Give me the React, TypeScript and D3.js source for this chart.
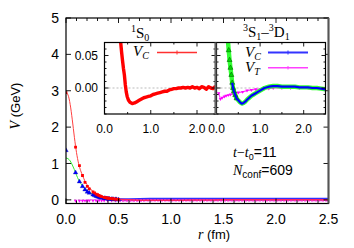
import React from 'react';
import * as d3 from 'd3';

// ---------- data ----------
const mainXTicks = [0, 0.5, 1.0, 1.5, 2.0, 2.5];
const mainYTicks = [0, 1, 2, 3, 4, 5];
const insetXTicks = [0, 1.0, 2.0];
const insetYTicks = [0, 0.05];

// fitted curves (main plot)
const fitR = [0, 0.02, 0.04, 0.06, 0.08, 0.1, 0.12, 0.14, 0.16, 0.18, 0.2, 0.25, 0.3, 0.35, 0.4, 0.5, 0.6, 0.8, 1.0, 1.5, 2.0, 2.5];
const fitVC1S0 = [2.95, 2.88, 2.62, 2.2, 1.72, 1.3, 1.0, 0.8, 0.65, 0.52, 0.42, 0.25, 0.15, 0.09, 0.055, 0.02, 0.005, 0, 0, 0, 0, 0];
const fitVC3S1 = [1.15, 1.13, 1.07, 0.96, 0.83, 0.68, 0.55, 0.45, 0.37, 0.3, 0.25, 0.16, 0.1, 0.065, 0.04, 0.015, 0.005, 0, 0, 0, 0, 0];

// lattice data points (main plot), short range
const mainR = [0, 0.091, 0.128, 0.157, 0.181, 0.203, 0.222, 0.257, 0.272, 0.287, 0.301, 0.314, 0.327, 0.339, 0.363, 0.374, 0.385, 0.396, 0.406, 0.416, 0.435, 0.444, 0.453, 0.471, 0.48, 0.5];
const mainVC1S0 = [2.95, 1.45, 0.94, 0.67, 0.48, 0.37, 0.3, 0.22, 0.19, 0.16, 0.14, 0.12, 0.105, 0.09, 0.07, 0.06, 0.055, 0.05, 0.045, 0.04, 0.032, 0.028, 0.025, 0.02, 0.018, 0.012];
const mainVC3S1 = [1.36, 0.75, 0.5, 0.37, 0.28, 0.22, 0.19, 0.14, 0.12, 0.1, 0.085, 0.075, 0.065, 0.055, 0.045, 0.04, 0.035, 0.03, 0.027, 0.024, 0.018, 0.016, 0.014, 0.011, 0.01, 0.007];
const mainRT = [0.091, 0.128, 0.157, 0.181, 0.203, 0.222, 0.257, 0.287, 0.314, 0.339, 0.363, 0.396, 0.435, 0.471, 0.5];
const mainVT = [-0.025, -0.025, -0.025, -0.022, -0.022, -0.02, -0.02, -0.02, -0.02, -0.02, -0.02, -0.018, -0.018, -0.018, -0.018];

// long range tail (main plot)
const tailR = [0.5, 0.6, 0.7, 0.8, 0.9, 1.0, 1.1, 1.2, 1.3, 1.4, 1.5, 1.6, 1.7, 1.8, 1.9, 2.0, 2.1, 2.2, 2.3, 2.4, 2.5];
const tailVC1S0 = [0.012, 0.0, -0.01, -0.012, -0.01, -0.01, -0.008, -0.006, -0.004, -0.003, 0, 0, 0, 0, 0, 0, 0, 0, 0, 0, 0];
const tailVC3S1 = [0.007, 0.012, 0.015, 0.02, 0.02, 0.02, 0.02, 0.02, 0.02, 0.02, 0.02, 0.02, 0.02, 0.02, 0.02, 0.02, 0.02, 0.02, 0.02, 0.02, 0.02];
const tailVT = [-0.018, -0.018, -0.016, -0.015, -0.015, -0.015, -0.015, -0.015, -0.015, -0.015, -0.015, -0.015, -0.015, -0.015, -0.015, -0.015, -0.015, -0.015, -0.015, -0.015, -0.015];

// left inset: 1S0 central potential
const inset1R = [0.33, 0.35, 0.37, 0.39, 0.41, 0.43, 0.45, 0.47, 0.49, 0.52, 0.55, 0.6, 0.65, 0.7, 0.75, 0.8, 0.85, 0.9, 0.95, 1.0, 1.05, 1.1, 1.15, 1.2, 1.25, 1.3, 1.35, 1.4, 1.45, 1.5, 1.55, 1.6, 1.65, 1.7, 1.75, 1.8, 1.85, 1.9, 1.95, 2.0, 2.05, 2.1, 2.15, 2.2, 2.25, 2.3, 2.35, 2.4];
const inset1VC = [0.085, 0.07, 0.055, 0.042, 0.03, 0.02, 0.005, -0.006, -0.013, -0.019, -0.022, -0.024, -0.023, -0.021, -0.019, -0.017, -0.015, -0.014, -0.013, -0.012, -0.01, -0.009, -0.008, -0.007, -0.006, -0.005, -0.005, -0.003, -0.002, -0.001, -0.001, 0.0, 0.0, 0.001, 0.0, 0.001, 0.0, 0.002, 0.0, 0.001, -0.001, 0.002, 0.001, -0.002, 0.002, 0.0, -0.001, 0.003];

// right inset: 3S1-3D1 central and tensor potentials
const inset2R = [0.26, 0.28, 0.3, 0.32, 0.34, 0.36, 0.38, 0.4, 0.43, 0.46, 0.5, 0.54, 0.58, 0.62, 0.66, 0.7, 0.75, 0.8, 0.85, 0.9, 0.95, 1.0, 1.05, 1.1, 1.2, 1.3, 1.4, 1.5, 1.6, 1.7, 1.8, 1.9, 2.0, 2.1, 2.2, 2.3, 2.4, 2.5];
const inset2VC = [0.075, 0.058, 0.043, 0.031, 0.02, 0.008, 0.0, -0.005, -0.011, -0.016, -0.019, -0.022, -0.024, -0.023, -0.021, -0.018, -0.015, -0.012, -0.01, -0.008, -0.006, -0.004, -0.002, 0.0, 0.002, 0.003, 0.003, 0.002, 0.002, 0.002, 0.002, 0.001, 0.001, 0.001, 0.0, 0.0, -0.001, -0.002];
const inset2RT = [0.05, 0.09, 0.13, 0.18, 0.22, 0.27, 0.32, 0.38, 0.44, 0.5, 0.6, 0.7, 0.8, 0.9, 1.0, 1.1, 1.2, 1.3, 1.5, 1.7, 1.9, 2.1, 2.3, 2.5];
const inset2VT = [-0.008, -0.017, -0.015, -0.013, -0.012, -0.011, -0.01, -0.009, -0.008, -0.007, -0.006, -0.004, -0.003, -0.002, -0.002, -0.001, -0.001, 0.0, 0.0, 0.0, 0.0, 0.0, 0.0, 0.0];

// ---------- layout ----------
const SANS = '"Liberation Sans", Arial, Helvetica, sans-serif';
const SERIF = '"Liberation Serif", "Times New Roman", serif';

const M = { left: 66, right: 328.5, top: 18, bottom: 203.5 };
const I1 = { left: 104.5, right: 215.5, top: 42.5, bottom: 114 };
const I2 = { left: 216.5, right: 325.5, top: 42.5, bottom: 114 };

const xM = d3.scaleLinear().domain([0, 2.5]).range([M.left, M.right]);
const yM = d3.scaleLinear().domain([-0.1, 5]).range([M.bottom, M.top]);
const x1 = d3.scaleLinear().domain([0, 2.4]).range([I1.left, I1.right]);
const x2 = d3.scaleLinear().domain([0, 2.5]).range([I2.left, I2.right]);
const yI = d3.scaleLinear().domain([-0.04, 0.07]).range([I1.bottom, I1.top]);

const zip = (a: number[], b: number[]) => a.map((v, i) => [v, b[i]] as [number, number]);

function Ticks({ box, xs, xMinor, ys, yMinor, xScale, yScale, len, minLen }: any) {
  const out: any[] = [];
  const push = (k: string, xa: number, ya: number, xb: number, yb: number) =>
    out.push(<line key={k} x1={xa} y1={ya} x2={xb} y2={yb} stroke="#000" strokeWidth={0.9} />);
  xs.forEach((v: number, i: number) => {
    const x = xScale(v);
    push('xb' + i, x, box.bottom, x, box.bottom - len);
    push('xt' + i, x, box.top, x, box.top + len);
  });
  xMinor.forEach((v: number, i: number) => {
    const x = xScale(v);
    push('xbm' + i, x, box.bottom, x, box.bottom - minLen);
    push('xtm' + i, x, box.top, x, box.top + minLen);
  });
  ys.forEach((v: number, i: number) => {
    const y = yScale(v);
    push('yl' + i, box.left, y, box.left + len, y);
    push('yr' + i, box.right, y, box.right - len, y);
  });
  yMinor.forEach((v: number, i: number) => {
    const y = yScale(v);
    push('ylm' + i, box.left, y, box.left + minLen, y);
    push('yrm' + i, box.right, y, box.right - minLen, y);
  });
  return <g>{out}</g>;
}

export default function App() {
  const lineM = d3.line<[number, number]>().x(d => xM(d[0])).y(d => yM(d[1])).curve(d3.curveMonotoneX);
  const lineMs = d3.line<[number, number]>().x(d => xM(d[0])).y(d => yM(d[1]));
  const line1 = d3.line<[number, number]>().x(d => x1(d[0])).y(d => yI(d[1]));
  const line2 = d3.line<[number, number]>().x(d => x2(d[0])).y(d => yI(d[1]));
  const sq = d3.symbol().type(d3.symbolSquare).size(8)()!;
  const tri = d3.symbol().type(d3.symbolTriangle).size(9)()!;
  const triS = d3.symbol().type(d3.symbolTriangle).size(5)()!;
  const triG = d3.symbol().type(d3.symbolTriangle).size(11)()!;

  const mainXMinor = d3.range(0, 2.51, 0.1).filter(v => Math.abs(v / 0.5 - Math.round(v / 0.5)) > 1e-6);
  const insetYMinor = d3.range(-0.04, 0.0701, 0.01).filter(v => Math.abs(v / 0.05 - Math.round(v / 0.05)) > 1e-6);
  const inset1XMinor = [0.5, 1.5];
  const inset2XMinor = [0.5, 1.5, 2.5];

  const redPts = zip(mainR, mainVC1S0);
  const bluePts = zip(mainR, mainVC3S1);
  const magPts = zip(mainRT, mainVT);

  return (
    <svg width={354} height={248} style={{ display: 'block', position: 'absolute', left: 0, top: 0 }}>
      <defs>
        <clipPath id="cm"><rect x={M.left} y={M.top} width={M.right - M.left} height={M.bottom - M.top} /></clipPath>
        <clipPath id="c1"><rect x={I1.left} y={I1.top} width={I1.right - I1.left} height={I1.bottom - I1.top} /></clipPath>
        <clipPath id="c2"><rect x={I2.left} y={I2.top} width={I2.right - I2.left} height={I2.bottom - I2.top} /></clipPath>
      </defs>
      <rect x={0} y={0} width={354} height={248} fill="#fff" />

      {/* main plot */}
      <line x1={M.left} x2={M.right} y1={yM(0)} y2={yM(0)} stroke="#aaa" strokeWidth={0.8} strokeDasharray="2,2" />
      <g clipPath="url(#cm)">
        <path d={lineM(zip(fitR, fitVC1S0))!} fill="none" stroke="#ff4040" strokeWidth={1} />
        <path d={lineM(zip(fitR, fitVC3S1))!} fill="none" stroke="#33ee33" strokeWidth={1} />
        <path d={lineMs(zip(tailR, tailVC3S1))!} fill="none" stroke="#3030ff" strokeWidth={2.6} />
        <path d={lineMs(zip(tailR, tailVT))!} fill="none" stroke="#ff30ff" strokeWidth={2.4} strokeDasharray="2.5,1" />
        <path d={lineMs(zip(tailR, tailVC1S0))!} fill="none" stroke="#ff2060" strokeWidth={1.5} />
        {magPts.map((d, i) => (
          <path key={'m' + i} d={triS} transform={`translate(${xM(d[0])},${yM(d[1])}) rotate(180)`} fill="#ff00ff" />
        ))}
        {bluePts.map((d, i) => (
          <path key={'b' + i} d={tri} transform={`translate(${xM(d[0])},${yM(d[1])})`} fill="#0000ff" stroke="#0000aa" strokeWidth={0.3} />
        ))}
        {redPts.map((d, i) => (
          <path key={'r' + i} d={sq} transform={`translate(${xM(d[0])},${yM(d[1])})`} fill="#ff0000" />
        ))}
      </g>
      <Ticks box={M} xs={mainXTicks} xMinor={mainXMinor} ys={mainYTicks} yMinor={[]} xScale={xM} yScale={yM} len={5} minLen={3} />
      <rect x={M.left} y={M.top} width={M.right - M.left} height={M.bottom - M.top} fill="none" stroke="#000" strokeWidth={1.2} />
      <line x1={M.right} x2={M.right} y1={M.top} y2={M.bottom} stroke="#555" strokeWidth={2} />

      {mainXTicks.map((v, i) => (
        <text key={'mx' + i} x={xM(v)} y={224} textAnchor="middle" fontFamily={SANS} fontSize={14}>{v.toFixed(1)}</text>
      ))}
      {mainYTicks.map((v, i) => (
        <text key={'my' + i} x={59} y={yM(v)} dy="0.36em" textAnchor="end" fontFamily={SANS} fontSize={14}>{v}</text>
      ))}
      <text transform="translate(20,106) rotate(-90)" textAnchor="middle" fontFamily={SANS} fontSize={13}>
        <tspan fontStyle="italic" fontFamily={SERIF} fontSize={14}>V</tspan> (GeV)
      </text>
      <text x={214} y={239} textAnchor="middle" fontFamily={SANS} fontSize={13}>
        <tspan fontStyle="italic" fontFamily={SERIF} fontSize={14}>r</tspan> (fm)
      </text>

      <text x={233} y={157} fontFamily={SANS} fontSize={14}>
        <tspan fontStyle="italic" fontFamily={SERIF}>t</tspan>
        <tspan fontFamily={SERIF}>−</tspan>
        <tspan fontStyle="italic" fontFamily={SERIF}>t</tspan>
        <tspan fontSize={9} dy={3}>0</tspan>
        <tspan dy={-3}>=11</tspan>
      </text>
      <text x={233} y={175} fontFamily={SANS} fontSize={14}>
        <tspan fontStyle="italic" fontFamily={SERIF}>N</tspan>
        <tspan fontSize={10} dy={3}>conf</tspan>
        <tspan dy={-3}>=609</tspan>
      </text>

      {/* left inset */}
      <rect x={I1.left} y={I1.top} width={I1.right - I1.left} height={I1.bottom - I1.top} fill="#fff" />
      <line x1={I1.left} x2={I1.right} y1={yI(0)} y2={yI(0)} stroke="#aaa" strokeWidth={0.8} strokeDasharray="2,2" />
      <g clipPath="url(#c1)">
        <path d={line1(zip(inset1R, inset1VC))!} fill="none" stroke="#ff0000" strokeWidth={3.4} strokeLinejoin="round" />
      </g>
      <Ticks box={I1} xs={insetXTicks} xMinor={inset1XMinor} ys={insetYTicks} yMinor={insetYMinor} xScale={x1} yScale={yI} len={4} minLen={2} />
      <rect x={I1.left} y={I1.top} width={I1.right - I1.left} height={I1.bottom - I1.top} fill="none" stroke="#000" strokeWidth={1.2} />

      {/* right inset */}
      <rect x={I2.left} y={I2.top} width={I2.right - I2.left} height={I2.bottom - I2.top} fill="#fff" />
      <line x1={I2.left} x2={I2.right} y1={yI(0)} y2={yI(0)} stroke="#aaa" strokeWidth={0.8} strokeDasharray="2,2" />
      <g clipPath="url(#c2)">
        <path d={line2(zip(inset2RT, inset2VT))!} fill="none" stroke="#ff40ff" strokeWidth={1.2} />
        {zip(inset2RT, inset2VT).map((d, i) => (
          <path key={'it' + i} d={triS} transform={`translate(${x2(d[0])},${yI(d[1])}) rotate(180)`} fill="#ff00ff" />
        ))}
        <path d={line2(zip(inset2R, inset2VC))!} fill="none" stroke="#33ff33" strokeWidth={4.4} strokeLinejoin="round" />
        {zip(inset2R, inset2VC).filter(d => d[0] < 0.5).map((d, i) => (
          <path key={'ig' + i} d={triG} transform={`translate(${x2(d[0])},${yI(d[1])})`} fill="#00dd00" stroke="#005500" strokeWidth={0.5} />
        ))}
        <path d={line2(zip(inset2R, inset2VC).filter(d => d[0] >= 0.36))!} fill="none" stroke="#0000ff" strokeWidth={2.2} strokeLinejoin="round" />
      </g>
      <Ticks box={I2} xs={insetXTicks} xMinor={inset2XMinor} ys={insetYTicks} yMinor={insetYMinor} xScale={x2} yScale={yI} len={4} minLen={2} />
      <rect x={I2.left} y={I2.top} width={I2.right - I2.left} height={I2.bottom - I2.top} fill="none" stroke="#000" strokeWidth={1.2} />
      <line x1={I1.right} x2={I1.right} y1={I1.top} y2={I1.bottom} stroke="#666" strokeWidth={2} />

      {/* inset labels */}
      {insetYTicks.map((v, i) => (
        <text key={'iy' + i} x={98} y={yI(v)} dy="0.36em" textAnchor="end" fontFamily={SANS} fontSize={12}>{v.toFixed(2)}</text>
      ))}
      {insetXTicks.map((v, i) => (
        <text key={'ix1' + i} x={x1(v)} y={133} textAnchor="middle" fontFamily={SANS} fontSize={12}>{v.toFixed(1)}</text>
      ))}
      {insetXTicks.map((v, i) => (
        <text key={'ix2' + i} x={x2(v)} y={133} textAnchor="middle" fontFamily={SANS} fontSize={12}>{v.toFixed(1)}</text>
      ))}

      <text x={131} y={38} fontFamily={SERIF} fontSize={15}>
        <tspan fontSize={10} dy={-6}>1</tspan>
        <tspan dy={6}>S</tspan>
        <tspan fontSize={10} dy={3}>0</tspan>
      </text>
      <text x={243} y={37} fontFamily={SERIF} fontSize={15}>
        <tspan fontSize={10} dy={-6}>3</tspan>
        <tspan dy={6}>S</tspan>
        <tspan fontSize={10} dy={3}>1</tspan>
        <tspan dy={-3}>–</tspan>
        <tspan fontSize={10} dy={-6}>3</tspan>
        <tspan dy={6}>D</tspan>
        <tspan fontSize={10} dy={3}>1</tspan>
      </text>

      {/* legends */}
      <text x={133} y={56} fontFamily={SERIF} fontSize={15} fontStyle="italic">
        V<tspan fontSize={10} dy={3}>C</tspan>
      </text>
      <line x1={157} x2={197} y1={52.5} y2={52.5} stroke="#ff3030" strokeWidth={1.6} />
      <line x1={177} x2={177} y1={50.5} y2={54.5} stroke="#ff3030" strokeWidth={1} />

      <text x={245} y={57} fontFamily={SERIF} fontSize={15} fontStyle="italic">
        V<tspan fontSize={10} dy={3}>C</tspan>
      </text>
      <line x1={268} x2={308} y1={52.5} y2={52.5} stroke="#3333ff" strokeWidth={2} />
      <line x1={288} x2={288} y1={50.5} y2={54.5} stroke="#3333ff" strokeWidth={1} />
      <text x={245} y={72} fontFamily={SERIF} fontSize={15} fontStyle="italic">
        V<tspan fontSize={10} dy={3}>T</tspan>
      </text>
      <line x1={268} x2={308} y1={67.7} y2={67.7} stroke="#ff40ff" strokeWidth={1.4} />
      <line x1={288} x2={288} y1={66} y2={69.5} stroke="#ff40ff" strokeWidth={1} />
    </svg>
  );
}
